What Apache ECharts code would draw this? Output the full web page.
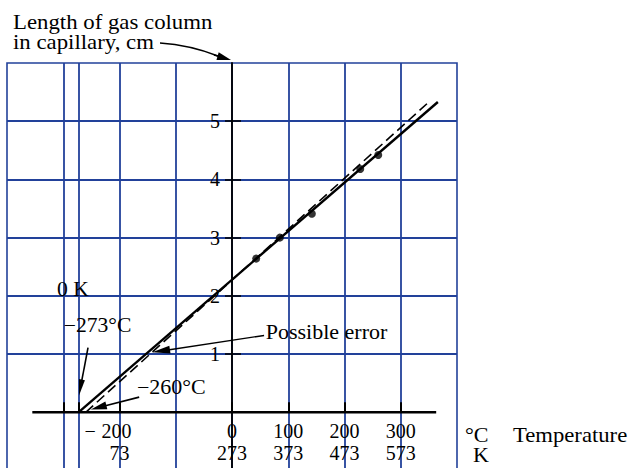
<!DOCTYPE html>
<html><head><meta charset="utf-8">
<script src="https://cdn.jsdelivr.net/npm/echarts@6/dist/echarts.min.js"></script>
<style>html,body{margin:0;padding:0;background:#fff}#c{width:631px;height:468px}</style>
</head><body><div id="c"></div>
<script>
// ---- data ----
const tempC = [43, 85, 142, 228, 260];
const lengthCm = [2.64, 3.0, 3.41, 4.18, 4.42];
const fitC = [-273, 366];
const fitLen = [0, 5.33];
const errC = [-260, 350];
const errLen = [0, 5.33];
const baseC = [-355, 363];
const baseLen = [0, 0];
const xLabelC = [-200, -100, 0, 100, 200, 300];
const xLabelK = [73, 173, 273, 373, 473, 573];
const xTickMarks = [-300, -273, -200, -100, 0, 100, 200, 300];
const yLabels = [1, 2, 3, 4, 5];

const BLUE = '#22419a';
const SERIF = 'Liberation Serif';
const GL = 7, GT = 63, GW = 450, GH = 407.5;
const chart = echarts.init(document.getElementById('c'), null, {renderer: 'svg'});

const pairs = (a, b) => a.map((v, i) => [v, b[i]]);
const yZeroOffset = -(GH * 1 / 7);   // y = 0 lies one unit above the grid bottom (-1)
const xZeroOffset = -(GW / 2);      // x = 0 lies at the centre of -400..400

chart.setOption({
  animation: false,
  backgroundColor: '#fff',
  grid: {left: GL, top: GT, width: GW, height: GH, outerBoundsMode: 'none', containLabel: false,
         show: true, borderColor: BLUE, borderWidth: 1.6, backgroundColor: 'transparent'},
  xAxis: {
    type: 'value', min: -400, max: 400, interval: 100, position: 'bottom', offset: yZeroOffset,
    axisLine: {show: false, onZero: false},
    axisTick: {show: true, inside: true, length: 10, customValues: xTickMarks, lineStyle: {color: '#000', width: 2}},
    splitLine: {show: true, lineStyle: {color: BLUE, width: 1.8}},
    axisLabel: {
      customValues: xLabelC, margin: 8, hideOverlap: false, showMinLabel: true, showMaxLabel: true,
      color: '#000', fontFamily: SERIF, fontSize: 20, lineHeight: 22,
      formatter: function (v) {
        const i = xLabelC.indexOf(v);
        const k = xLabelK[i];
        const top = v < 0 ? '{m|−}{n|' + Math.abs(v) + '}{q|}' : '{n|' + v + '}';
        return top + '\n{n|' + k + '}';
      },
      rich: {
        m: {width: 17, align: 'left', fontFamily: SERIF, fontSize: 20, color: '#000'},
        n: {fontFamily: SERIF, fontSize: 20, color: '#000', lineHeight: 22},
        q: {width: 23, fontSize: 20}
      }
    }
  },
  yAxis: [{
    type: 'value', min: -1, max: 6, interval: 1, position: 'left', offset: xZeroOffset,
    axisLine: {show: true, onZero: false, lineStyle: {color: '#000', width: 1.8}},
    axisTick: {show: true, length: 7, customValues: yLabels, lineStyle: {color: '#000', width: 1.5}},
    splitLine: {show: true, lineStyle: {color: BLUE, width: 1.8}},
    axisLabel: {customValues: yLabels, margin: 12, color: '#000', fontFamily: SERIF, fontSize: 20}
  }, {
    type: 'value', min: -1, max: 6, interval: 1, position: 'left', offset: xZeroOffset,
    axisLine: {show: false, onZero: false},
    axisTick: {show: true, inside: true, length: 9, customValues: yLabels, lineStyle: {color: '#000', width: 1.5}},
    splitLine: {show: false}, axisLabel: {show: false}
  }],
  series: [
    {type: 'line', data: pairs(baseC, baseLen), symbol: 'none', silent: true, lineStyle: {color: '#000', width: 2.6}, z: 3},
    {type: 'line', data: pairs(fitC, fitLen), symbol: 'none', silent: true, lineStyle: {color: '#000', width: 2.4}, z: 4},
    {type: 'line', data: pairs(errC, errLen), symbol: 'none', silent: true, lineStyle: {color: '#000', width: 1.6, type: [10, 5]}, z: 4},
    {type: 'scatter', data: pairs(tempC, lengthCm), symbol: 'circle', symbolSize: 8, itemStyle: {color: '#000'}, z: 5}
  ]
});

function px(x, y) { return chart.convertToPixel({gridIndex: 0}, [x, y]); }
function arrow(p0, p1, headLen, headW, width) {
  const dx = p1[0] - p0[0], dy = p1[1] - p0[1];
  const L = Math.hypot(dx, dy), ux = dx / L, uy = dy / L;
  const bx = p1[0] - ux * headLen, by = p1[1] - uy * headLen;
  const nx = -uy, ny = ux;
  return [
    {type: 'line', shape: {x1: p0[0], y1: p0[1], x2: bx + ux * 2, y2: by + uy * 2}, style: {stroke: '#000', lineWidth: width}, z: 20},
    {type: 'polygon', shape: {points: [[p1[0], p1[1]], [bx + nx * headW, by + ny * headW], [bx - nx * headW, by - ny * headW]]}, style: {fill: '#000'}, z: 20}
  ];
}
function txt(text, p, size, sx, extra) {
  return {type: 'text', x: p[0], y: p[1], z: 21, scaleX: sx || 1,
    style: Object.assign({text: text, fontFamily: SERIF, fontSize: size, fill: '#000', align: 'left', verticalAlign: 'middle'}, extra || {})};
}

const g = [];
g.push(txt('Length of gas column\nin capillary, cm', [13, 32], 20, 1.14, {lineHeight: 20}));
g.push({type: 'bezierCurve', shape: {x1: 160, y1: 43, cpx1: 190, cpy1: 45, x2: 218, y2: 56}, style: {stroke: '#000', lineWidth: 1.5, fill: null}, z: 20});
g.push(...arrow([214, 55], [231, 60], 14, 4, 1.5));
g.push(txt('0 K', px(-311, 2.12), 20, 1.08));
g.push(txt('−273°C', px(-299, 1.49), 20, 1.08));
g.push(txt('−260°C', px(-169, 0.43), 20, 1.1));
g.push(txt('Possible error', px(60, 1.37), 20, 1.1));
g.push(...arrow(px(-256, 1.11), px(-272, 0.29), 16, 3, 1.6));
g.push(...arrow(px(-165, 0.26), px(-251, 0.05), 16, 4, 1.6));
g.push(...arrow(px(57, 1.32), px(-142, 1.03), 18, 4, 1.4));
g.push(txt('°C', [465, 435], 21, 1.05));
g.push(txt('Temperature', [513, 435], 21, 1.08));
g.push(txt('K', [473, 455], 21, 1.05));
chart.setOption({graphic: g});
</script>
</body></html>
